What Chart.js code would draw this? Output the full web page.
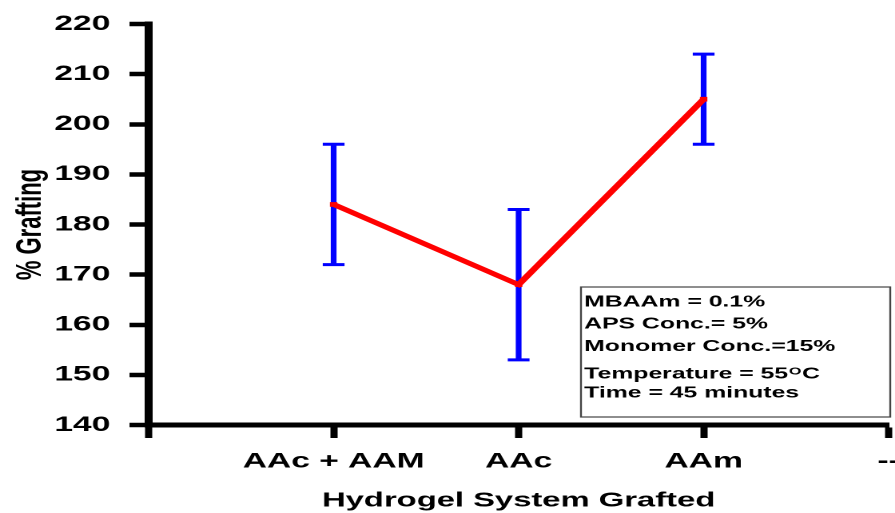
<!DOCTYPE html>
<html>
<head>
<meta charset="utf-8">
<script src="https://cdn.jsdelivr.net/npm/chart.js@4/dist/chart.umd.min.js"></script>
<style>
html,body{margin:0;padding:0;background:#fff;overflow:hidden}
canvas{display:block}
</style>
</head>
<body>
<canvas id="c" width="560" height="513" style="width:895px;height:513px"></canvas>
<script>
// ---- data ----
const categories = ['AAc + AAM', 'AAc', 'AAm'];
const tickLabels = ['', 'AAc + AAM', 'AAc', 'AAm', '--'];
const grafting  = [null, 184, 168, 205, null];
const errorLow  = [null, 172, 153, 196, null];
const errorHigh = [null, 196, 183, 214, null];
const yMin = 140, yMax = 220, yStep = 10;
const noteLines = ['MBAAm = 0.1%', 'APS Conc.= 5%', 'Monomer Conc.=15%', 'Temperature = 55', 'Time = 45 minutes'];
const noteSup = { line: 3, sup: 'O', tail: 'C' };

const FONT = '"Liberation Sans", Arial, sans-serif';

const errorBars = {
  id: 'errorBars',
  beforeDatasetsDraw(chart) {
    const { ctx, scales: { x, y } } = chart;
    ctx.save();
    ctx.strokeStyle = '#0000ff';
    for (let i = 0; i < grafting.length; i++) {
      if (grafting[i] == null) continue;
      const px = x.getPixelForValue(i);
      const yl = y.getPixelForValue(errorLow[i]);
      const yh = y.getPixelForValue(errorHigh[i]);
      ctx.lineWidth = 3.6;
      ctx.beginPath(); ctx.moveTo(px, yh); ctx.lineTo(px, yl); ctx.stroke();
      ctx.lineWidth = 3;
      ctx.beginPath();
      ctx.moveTo(px - 6.8, yh); ctx.lineTo(px + 6.8, yh);
      ctx.moveTo(px - 6.8, yl); ctx.lineTo(px + 6.8, yl);
      ctx.stroke();
    }
    ctx.restore();
  }
};

const noteBox = {
  id: 'noteBox',
  afterDraw(chart) {
    const ctx = chart.ctx;
    ctx.save();
    ctx.strokeStyle = '#444';
    ctx.lineWidth = 1.2;
    ctx.strokeRect(363.5, 287, 193.5, 130);
    ctx.fillStyle = '#000';
    ctx.textBaseline = 'alphabetic';
    ctx.textAlign = 'left';
    const baselines = [306.7, 328.5, 350.9, 378.5, 397.5];
    const x0 = 365.5;
    noteLines.forEach((t, i) => {
      ctx.font = 'bold 15.5px ' + FONT;
      ctx.fillText(t, x0, baselines[i]);
      if (i === noteSup.line) {
        const w = ctx.measureText(t).width;
        ctx.font = 'bold 10px ' + FONT;
        ctx.fillText(noteSup.sup, x0 + w + 0.5, baselines[i] - 3.8);
        const w2 = ctx.measureText(noteSup.sup).width;
        ctx.font = 'bold 15.5px ' + FONT;
        ctx.fillText(noteSup.tail, x0 + w + w2 + 1, baselines[i]);
      }
    });
    ctx.restore();
  }
};

new Chart(document.getElementById('c'), {
  type: 'line',
  data: {
    labels: tickLabels,
    datasets: [{
      data: grafting,
      borderColor: '#ff0000',
      backgroundColor: '#ff0000',
      borderWidth: 4.6,
      pointStyle: 'rect',
      pointRadius: 3.3,
      pointBorderWidth: 0,
      pointBackgroundColor: '#ff0000',
      tension: 0
    }]
  },
  options: {
    responsive: false,
    devicePixelRatio: 2,
    animation: false,
    layout: { padding: { top: 24, left: 0, right: 0, bottom: 0 } },
    plugins: { legend: { display: false }, tooltip: { enabled: false } },
    scales: {
      x: {
        type: 'category',
        offset: false,
        grid: { display: true, drawOnChartArea: false, drawTicks: true, tickLength: 13, tickWidth: 4.5, tickColor: '#000' },
        border: { display: true, width: 5, color: '#000' },
        ticks: { autoSkip: false, maxRotation: 0, minRotation: 0, color: '#000', padding: 11,
                 font: { family: FONT, size: 21, weight: 'bold' } },
        title: { display: true, text: 'Hydrogel System Grafted', color: '#000',
                 font: { family: FONT, size: 20.5, weight: 'bold' }, padding: { top: 0, bottom: 0 } },
        afterFit(s) { s.height = 88; s.paddingRight = 3.5; s.paddingLeft = 0; }
      },
      y: {
        type: 'linear',
        min: yMin, max: yMax,
        grid: { display: true, drawOnChartArea: false, drawTicks: true, tickLength: 12, tickWidth: 4.5, tickColor: '#000' },
        border: { display: true, width: 5, color: '#000' },
        ticks: { stepSize: yStep, color: '#000', padding: 12,
                 font: { family: FONT, size: 21, weight: 'bold' } },
        title: { display: true, text: '% Grafting', color: '#000',
                 font: { family: FONT, size: 22, weight: 'bold' }, padding: { top: 6, bottom: 0 } },
        afterFit(s) { s.width = 93; s.paddingTop = 0; }
      }
    }
  },
  plugins: [errorBars, noteBox]
});
</script>
</body>
</html>
